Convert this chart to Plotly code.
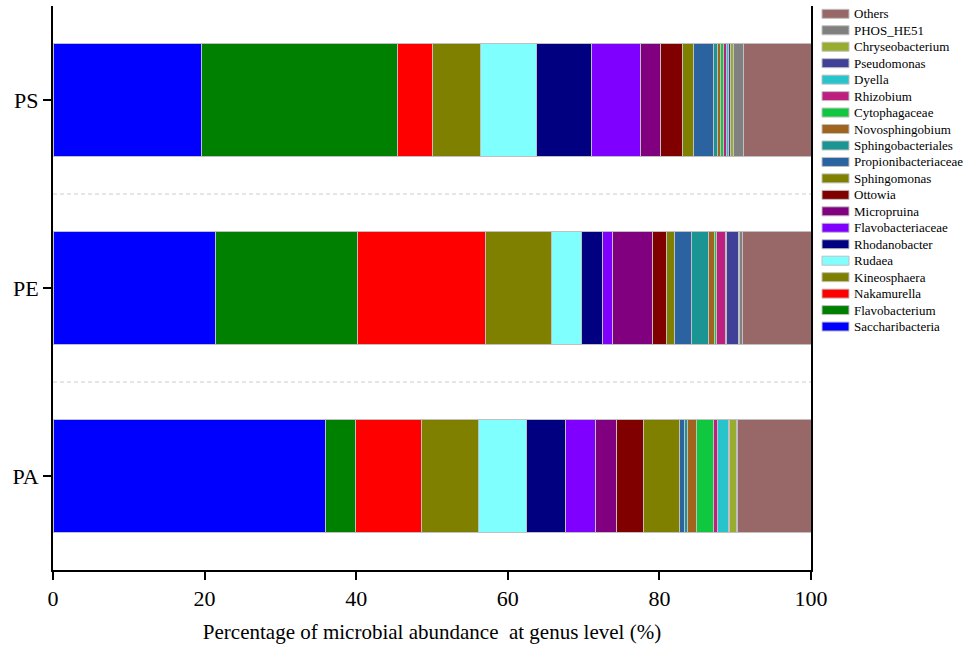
import plotly.graph_objects as go

samples = ["PA", "PE", "PS"]

genera = ["Saccharibacteria", "Flavobacterium", "Nakamurella", "Kineosphaera", "Rudaea",
          "Rhodanobacter", "Flavobacteriaceae", "Micropruina", "Ottowia", "Sphingomonas",
          "Propionibacteriaceae", "Sphingobacteriales", "Novosphingobium", "Cytophagaceae",
          "Rhizobium", "Dyella", "Pseudomonas", "Chryseobacterium", "PHOS_HE51", "Others"]

# values per genus: [PA, PE, PS]
saccharibacteria = [36.0, 21.5, 19.6]
flavobacterium = [3.9, 18.7, 25.8]
nakamurella = [8.7, 16.9, 4.6]
kineosphaera = [7.5, 8.7, 6.4]
rudaea = [6.4, 3.9, 7.4]
rhodanobacter = [5.1, 2.8, 7.2]
flavobacteriaceae = [4.0, 1.3, 6.5]
micropruina = [2.7, 5.3, 2.6]
ottowia = [3.6, 1.8, 2.9]
sphingomonas = [4.7, 1.1, 1.5]
propionibacteriaceae = [0.7, 2.3, 2.7]
sphingobacteriales = [0.4, 2.2, 0.4]
novosphingobium = [1.2, 0.8, 0.5]
cytophagaceae = [2.2, 0.2, 0.3]
rhizobium = [0.5, 1.2, 0.4]
dyella = [1.5, 0.2, 0.3]
pseudomonas = [0.1, 1.5, 0.3]
chryseobacterium = [1.0, 0.2, 0.4]
phos_he51 = [0.1, 0.3, 1.3]
others = [9.7, 9.1, 8.9]

values = [saccharibacteria, flavobacterium, nakamurella, kineosphaera, rudaea,
          rhodanobacter, flavobacteriaceae, micropruina, ottowia, sphingomonas,
          propionibacteriaceae, sphingobacteriales, novosphingobium, cytophagaceae,
          rhizobium, dyella, pseudomonas, chryseobacterium, phos_he51, others]

colors = ["#0000FF", "#008000", "#FF0000", "#808000", "#80FFFF",
          "#000080", "#8000FF", "#800080", "#800000", "#808000",
          "#2B62A0", "#1B9494", "#A0641E", "#10C840",
          "#BE2080", "#28C4CC", "#404098", "#98AC30", "#808080", "#986868"]

x_ticks = [0, 20, 40, 60, 80, 100]

fig = go.Figure()
for name, vals, col in zip(genera, values, colors):
    fig.add_trace(go.Bar(
        y=samples, x=vals, name=name, orientation="h",
        marker=dict(color=col, line=dict(color="#C0C0C0", width=1)),
        width=0.6, showlegend=False,
    ))

FONT = "Liberation Serif, Times New Roman, serif"

# plot area in pixels
L, R, T, B = 53, 811, 6, 570
W, H = 965, 652
pw, ph = R - L, B - T

shapes = []
annotations = []
# dashed separators between categories
for yb in [0.5, 1.5]:
    shapes.append(dict(type="line", xref="paper", yref="y", x0=0, x1=1, y0=yb, y1=yb,
                       line=dict(color="#CCCCCC", width=1, dash="4px,3px")))

# custom legend (top: Others ... bottom: Saccharibacteria)
first_c, step = 13.8, 16.46
for i, (name, col) in enumerate(zip(genera[::-1], colors[::-1])):
    cy = first_c + i * step
    y0 = (B - (cy + 4.5)) / ph
    y1 = (B - (cy - 4.5)) / ph
    shapes.append(dict(type="rect", xref="paper", yref="paper",
                       x0=(822 - L) / pw, x1=(849 - L) / pw, y0=y0, y1=y1,
                       fillcolor=col, line=dict(color="#C0C0C0", width=1)))
    annotations.append(dict(xref="paper", yref="paper", x=(852 - L) / pw, y=(B - cy) / ph,
                            text=name, showarrow=False, xanchor="left", yanchor="middle",
                            font=dict(family=FONT, size=13, color="black")))

fig.update_layout(
    barmode="stack",
    width=W, height=H,
    margin=dict(l=L, r=W - R, t=T, b=H - B),
    plot_bgcolor="white", paper_bgcolor="white",
    shapes=shapes, annotations=annotations,
    xaxis=dict(range=[0, 100], tickvals=x_ticks, showgrid=False, zeroline=False,
               showline=True, linecolor="black", linewidth=2,
               ticks="outside", ticklen=8, tickwidth=2, tickcolor="black",
               tickfont=dict(family=FONT, size=22, color="black"),
               title=dict(text="Percentage of microbial abundance  at genus level (%)",
                          font=dict(family=FONT, size=21, color="black"), standoff=14)),
    yaxis=dict(range=[-0.5, 2.5], categoryorder="array", categoryarray=samples,
               showgrid=False, zeroline=False,
               showline=True, linecolor="black", linewidth=2, mirror=True,
               ticks="outside", ticklen=8, tickwidth=2, tickcolor="black",
               tickfont=dict(family=FONT, size=22, color="black")),
)

fig.write_html("out.html")
